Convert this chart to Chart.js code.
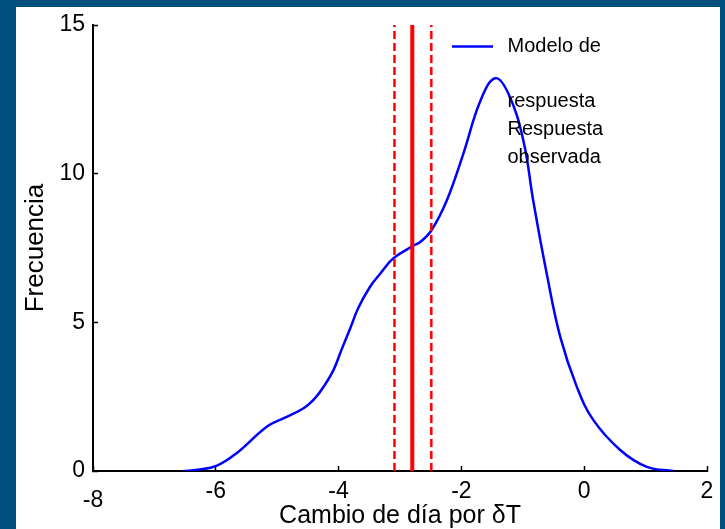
<!DOCTYPE html>
<html>
<head>
<meta charset="utf-8">
<script src="https://cdn.jsdelivr.net/npm/chart.js@4.4.1/dist/chart.umd.min.js"></script>
<style>
  html, body { margin: 0; padding: 0; width: 725px; height: 529px; overflow: hidden; background: #004f7c; }
  #panel { position: absolute; left: 16px; top: 7px; width: 704px; height: 522px; background: #ffffff; }
  canvas { display: block; }
</style>
</head>
<body>
<div id="panel"><canvas id="chart" width="704" height="522"></canvas></div>
<script>
// Density curve of the modelled response (change in day per δT)
const deltaT = [-6.53, -6.30, -5.99, -5.66, -5.17, -4.90, -4.57, -4.38, -4.22, -4.08,
                -3.95, -3.81, -3.68, -3.49, -3.32, -3.11, -2.78, -2.67, -2.49, -2.24,
                -1.97, -1.69, -1.45, -1.23, -0.99, -0.83, -0.61, -0.39, -0.12, 0.15,
                0.59, 1.02, 1.45];
const frequency = [0.00, 0.04, 0.17, 0.60, 1.49, 1.77, 2.11, 2.46, 2.91, 3.41,
                   4.09, 4.80, 5.48, 6.19, 6.64, 7.15, 7.58, 7.70, 8.09, 9.09,
                   10.66, 12.45, 13.21, 12.67, 11.11, 9.09, 6.63, 4.51, 2.83, 1.71,
                   0.70, 0.14, 0.00];

// Observed response: central value and its bounds
const observedMean = -2.80;
const observedLow = -3.09;
const observedHigh = -2.49;

// Axes
const xTickLabels = ['-8', '-6', '-4', '-2', '0', '2'];
const yTickLabels = ['0', '5', '10', '15'];
const xMin = -8, xMax = 2, yMin = 0, yMax = 15;

// Texts
const xTitle = 'Cambio de día por δT';
const yTitle = 'Frecuencia';
const legendText = ['Modelo de', '', 'respuesta', 'Respuesta', 'observada'];

const FONT = "'Liberation Sans', Arial, Helvetica, sans-serif";
Chart.defaults.font.family = FONT;
Chart.defaults.color = '#000000';

const curvePoints = deltaT.map((x, i) => ({ x: x, y: frequency[i] }));
const vertical = (x) => [{ x: x, y: yMin }, { x: x, y: yMax }];

// Legend drawn as free text next to a line sample
const legendPlugin = {
  id: 'sideLegend',
  afterDraw(chart) {
    const ctx = chart.ctx;
    const ds = chart.data.datasets[0];
    ctx.save();
    ctx.strokeStyle = ds.borderColor;
    ctx.lineWidth = 2.5;
    ctx.beginPath();
    ctx.moveTo(436, 39.5);
    ctx.lineTo(477, 39.5);
    ctx.stroke();
    ctx.fillStyle = '#000000';
    ctx.font = '20px ' + FONT;
    ctx.textAlign = 'left';
    ctx.textBaseline = 'alphabetic';
    legendText.forEach((t, i) => {
      if (t) ctx.fillText(t, 491.5, 44.5 + i * 27.8);
    });
    ctx.restore();
  }
};

new Chart(document.getElementById('chart'), {
  type: 'scatter',
  data: {
    datasets: [
      {
        label: 'Modelo de respuesta',
        data: curvePoints,
        showLine: true,
        borderColor: '#0000ff',
        borderWidth: 2.5,
        pointRadius: 0,
        tension: 0.4,
        order: 1
      },
      {
        label: 'Respuesta observada',
        data: vertical(observedMean),
        showLine: true,
        borderColor: '#ff0000',
        borderWidth: 4,
        pointRadius: 0,
        order: 0
      },
      {
        label: 'Respuesta observada (límite inferior)',
        data: vertical(observedLow),
        showLine: true,
        borderColor: '#ff0000',
        borderWidth: 2.5,
        borderDash: [8, 4],
        pointRadius: 0,
        order: 0
      },
      {
        label: 'Respuesta observada (límite superior)',
        data: vertical(observedHigh),
        showLine: true,
        borderColor: '#ff0000',
        borderWidth: 2.5,
        borderDash: [8, 4],
        pointRadius: 0,
        order: 0
      }
    ]
  },
  options: {
    responsive: false,
    animation: false,
    layout: { padding: { top: 18, right: 13, left: 0, bottom: 0 } },
    plugins: {
      legend: { display: false },
      tooltip: { enabled: false }
    },
    scales: {
      x: {
        type: 'linear',
        min: xMin,
        max: xMax,
        afterFit(scale) {
          scale.height = 58;
          scale.paddingLeft = 0;
          scale.paddingRight = 0;
        },
        border: { display: true, color: '#000000', width: 2 },
        grid: { drawOnChartArea: false, drawTicks: true, tickLength: -5, tickColor: '#000000', tickWidth: 1.5 },
        ticks: {
          stepSize: 2,
          padding: 12,
          color: '#000000',
          maxRotation: 0,
          font: (ctx) => ctx.index === 0 ? { size: 23, lineHeight: '15.2px' } : { size: 23 },
          callback: (value, index) => index === 0 ? ['', xTickLabels[index]] : xTickLabels[index]
        },
        title: {
          display: true,
          text: xTitle,
          color: '#000000',
          font: { size: 25, lineHeight: 1 },
          padding: { top: 0, bottom: 0 }
        }
      },
      y: {
        type: 'linear',
        min: yMin,
        max: yMax,
        afterFit(scale) {
          scale.width = 77;
          scale.paddingTop = 0;
          scale.paddingBottom = 0;
        },
        border: { display: true, color: '#000000', width: 2 },
        grid: { drawOnChartArea: false, drawTicks: true, tickLength: -5, tickColor: '#000000', tickWidth: 1.5 },
        ticks: {
          stepSize: 5,
          padding: 13,
          color: '#000000',
          font: { size: 23 },
          callback: (value, index) => yTickLabels[index]
        },
        title: {
          display: true,
          text: yTitle,
          color: '#000000',
          font: { size: 26, lineHeight: 1 },
          padding: { top: 7, bottom: 0 }
        }
      }
    }
  },
  plugins: [legendPlugin]
});
</script>
</body>
</html>
